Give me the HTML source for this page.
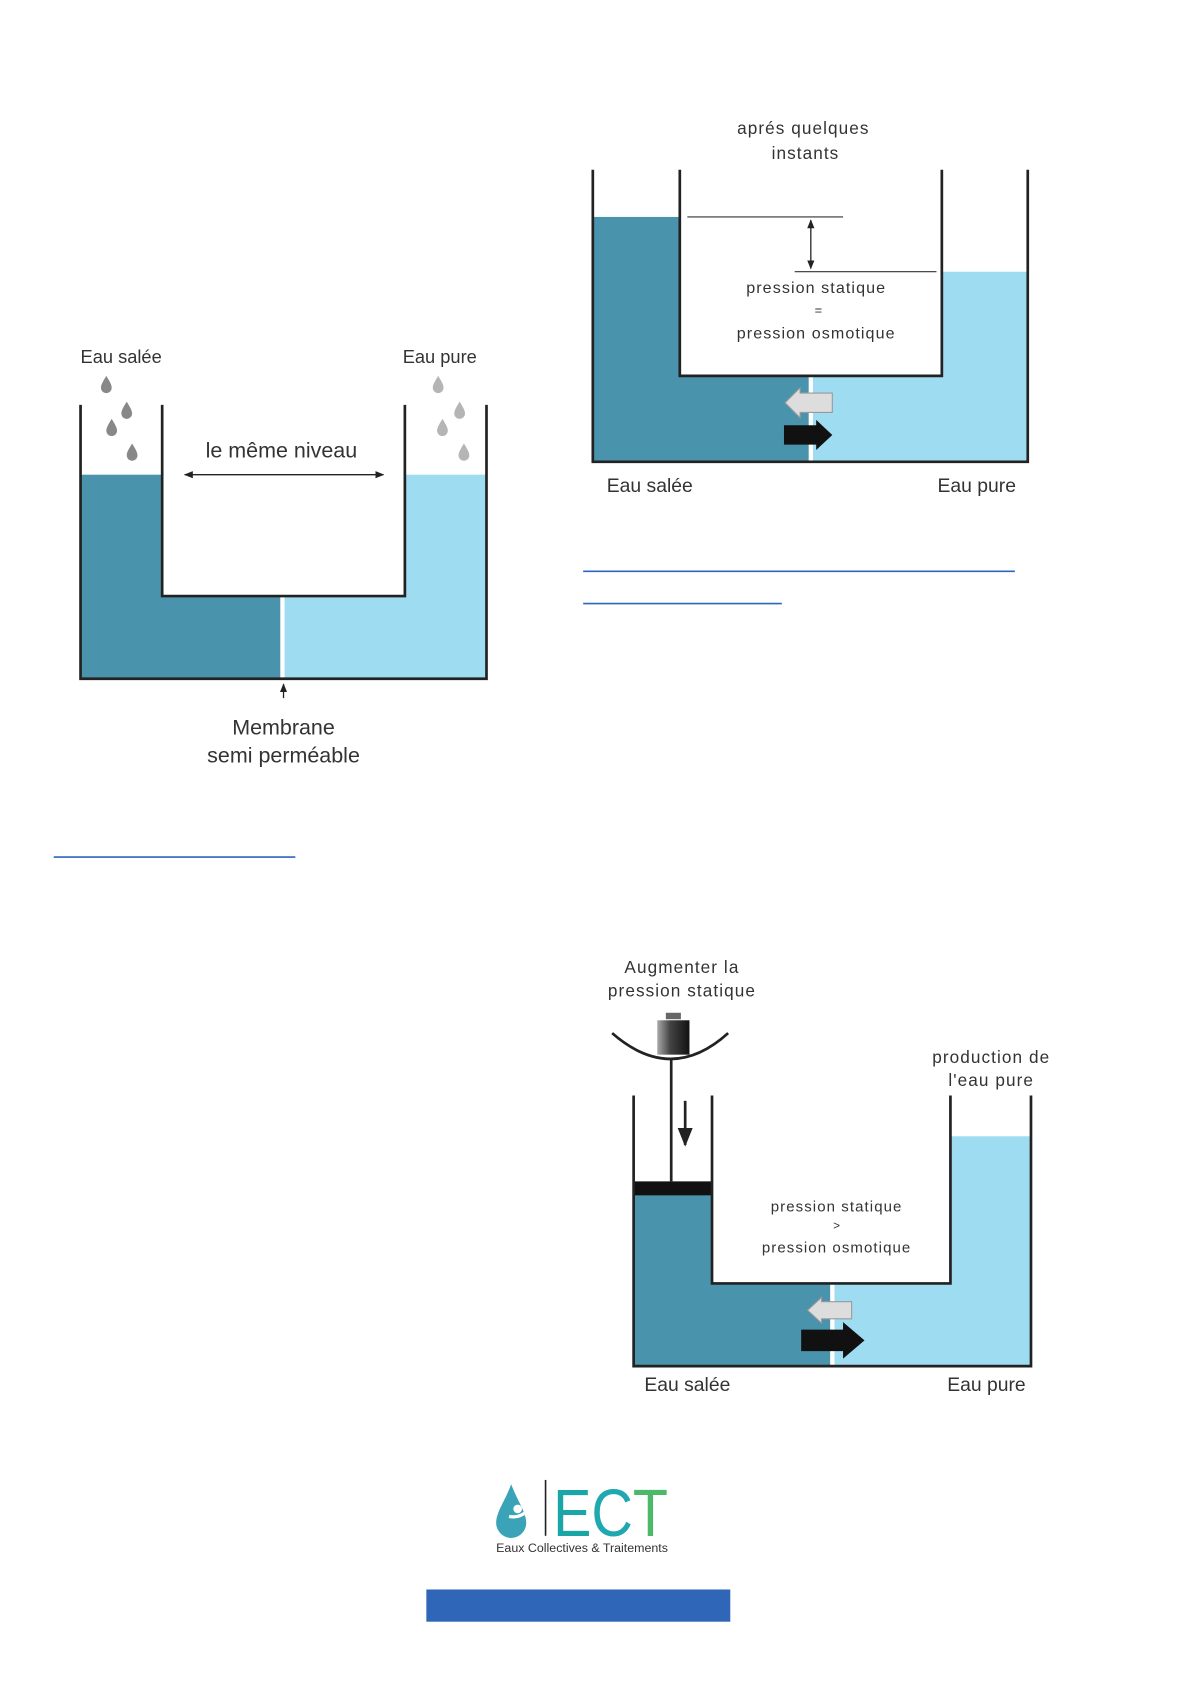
<!DOCTYPE html>
<html><head><meta charset="utf-8"><style>
html,body{margin:0;padding:0;background:#fff;width:1191px;height:1684px;overflow:hidden}
svg{display:block}
text{font-family:"Liberation Sans","DejaVu Sans",sans-serif;fill:#333}
</style></head><body>
<svg width="1191" height="1684" viewBox="0 0 1109 1568" preserveAspectRatio="none" xmlns="http://www.w3.org/2000/svg">
<defs>
<marker id="ah" viewBox="0 0 10 10" refX="9" refY="5" markerWidth="7" markerHeight="7" orient="auto-start-reverse"><path d="M0,1 L10,5 L0,9 z" fill="#222"/></marker>
<linearGradient id="wg" x1="0" x2="1"><stop offset="0" stop-color="#aaa"/><stop offset=".4" stop-color="#444"/><stop offset="1" stop-color="#111"/></linearGradient>
<path id="drop" d="M0,-8 C3,-3 5,0 5,3 A5,5 0 0 1 -5,3 C-5,0 -3,-3 0,-8z"/>
</defs>

<!-- Diagram 1 -->
<rect x="75" y="442" width="188" height="190" fill="#4a93ad"/>
<rect x="263" y="442" width="190" height="190" fill="#9edcf2"/>
<rect x="151" y="440" width="226" height="115" fill="#fff"/>
<line x1="263" y1="555" x2="263" y2="632" stroke="#fff" stroke-width="4"/>
<path d="M75,377 V632 H453 V377 M151,377 V555 H377 V377" fill="none" stroke="#222" stroke-width="2.5"/>
<text x="75" y="338" font-size="17">Eau salée</text>
<text x="375" y="338" font-size="17">Eau pure</text>
<g fill="#888"><use href="#drop" x="99" y="358"/><use href="#drop" x="118" y="382"/><use href="#drop" x="104" y="398"/><use href="#drop" x="123" y="421"/></g>
<g fill="#b5b5b5"><use href="#drop" x="408" y="358"/><use href="#drop" x="428" y="382"/><use href="#drop" x="412" y="398"/><use href="#drop" x="432" y="421"/></g>
<text x="262" y="426" font-size="20" text-anchor="middle">le même niveau</text>
<line x1="172" y1="442" x2="357" y2="442" stroke="#222" stroke-width="1.2" marker-start="url(#ah)" marker-end="url(#ah)"/>
<line x1="264" y1="650" x2="264" y2="637" stroke="#222" stroke-width="1.2" marker-end="url(#ah)"/>
<text x="264" y="684" font-size="20" text-anchor="middle">Membrane</text>
<text x="264" y="710" font-size="20" text-anchor="middle">semi perméable</text>
<line x1="50" y1="798" x2="275" y2="798" stroke="#2f66b8" stroke-width="1.5"/>

<!-- Diagram 2 -->
<rect x="552" y="202" width="203" height="228" fill="#4a93ad"/>
<rect x="755" y="253" width="202" height="177" fill="#9edcf2"/>
<rect x="633" y="158" width="244" height="192" fill="#fff"/>
<line x1="755" y1="350" x2="755" y2="430" stroke="#fff" stroke-width="4"/>
<path d="M552,158 V430 H957 V158 M633,158 V350 H877 V158" fill="none" stroke="#222" stroke-width="2.5"/>
<line x1="640" y1="202" x2="785" y2="202" stroke="#333" stroke-width="1"/>
<line x1="740" y1="253" x2="872" y2="253" stroke="#333" stroke-width="1"/>
<line x1="755" y1="205" x2="755" y2="250" stroke="#222" stroke-width="1.2" marker-start="url(#ah)" marker-end="url(#ah)"/>
<text x="748" y="125" font-size="16" text-anchor="middle" letter-spacing="1">aprés quelques</text>
<text x="750" y="148" font-size="16" text-anchor="middle" letter-spacing="1">instants</text>
<text x="760" y="273" font-size="15" text-anchor="middle" letter-spacing="1">pression statique</text>
<text x="762" y="293" font-size="12" text-anchor="middle" fill="#aaa">=</text>
<text x="760" y="315" font-size="15" text-anchor="middle" letter-spacing="1">pression osmotique</text>
<path d="M775,366 H745 V361 L731,375 L745,389 V384 H775z" fill="#ddd" stroke="#999"/>
<path d="M730,396 H760 V391 L775,405 L760,419 V414 H730z" fill="#111"/>
<text x="565" y="458" font-size="18">Eau salée</text>
<text x="873" y="458" font-size="18">Eau pure</text>
<line x1="543" y1="532" x2="945" y2="532" stroke="#2f66b8" stroke-width="1.5"/>
<line x1="543" y1="562" x2="728" y2="562" stroke="#2f66b8" stroke-width="1.5"/>

<!-- Diagram 3 -->
<rect x="590" y="1112" width="185" height="160" fill="#4a93ad"/>
<rect x="775" y="1058" width="185" height="214" fill="#9edcf2"/>
<rect x="663" y="1056" width="222" height="139" fill="#fff"/>
<line x1="775" y1="1195" x2="775" y2="1272" stroke="#fff" stroke-width="4"/>
<rect x="590" y="1100" width="73" height="13" fill="#111"/>
<path d="M590,1020 V1272 H960 V1020 M663,1020 V1195 H885 V1020" fill="none" stroke="#222" stroke-width="2.5"/>
<line x1="625" y1="985" x2="625" y2="1100" stroke="#222" stroke-width="2.5"/>
<line x1="638" y1="1025" x2="638" y2="1066" stroke="#222" stroke-width="2.5" marker-end="url(#ah)"/>
<path d="M570,962 Q625,1010 678,962" fill="none" stroke="#222" stroke-width="2.5"/>
<rect x="612" y="950" width="30" height="32" fill="url(#wg)"/>
<rect x="620" y="943" width="14" height="6" fill="#666"/>
<text x="635" y="906" font-size="16" text-anchor="middle" letter-spacing="1">Augmenter la</text>
<text x="635" y="928" font-size="16" text-anchor="middle" letter-spacing="1">pression statique</text>
<text x="923" y="990" font-size="16" text-anchor="middle" letter-spacing="1">production de</text>
<text x="923" y="1011" font-size="16" text-anchor="middle" letter-spacing="1">l'eau pure</text>
<text x="779" y="1128" font-size="14" text-anchor="middle" letter-spacing="1">pression statique</text>
<text x="779" y="1145" font-size="11" text-anchor="middle" fill="#aaa">&gt;</text>
<text x="779" y="1166" font-size="14" text-anchor="middle" letter-spacing="1">pression osmotique</text>
<path d="M793,1212 H765 V1208 L752,1220 L765,1232 V1228 H793z" fill="#ddd" stroke="#999"/>
<path d="M746,1238 H785 V1231 L805,1248 L785,1265 V1258 H746z" fill="#111"/>
<text x="600" y="1295" font-size="18">Eau salée</text>
<text x="882" y="1295" font-size="18">Eau pure</text>

<!-- Logo -->
<path d="M476,1382 C470,1398 462,1408 462,1418 A13,13 0 0 0 490,1418 C490,1408 482,1398 476,1382z" fill="#3aa3b8"/>
<circle cx="482" cy="1405" r="4" fill="#fff"/>
<path d="M474,1412 Q484,1414 492,1406" stroke="#fff" stroke-width="3" fill="none"/>
<line x1="508" y1="1378" x2="508" y2="1430" stroke="#222" stroke-width="1.5"/>
<text x="515" y="1430" font-size="62" textLength="107" lengthAdjust="spacingAndGlyphs" style="fill:#1aa6a6">E<tspan style="fill:#20a8b0">C</tspan><tspan style="fill:#4cb86a">T</tspan></text>
<text x="462" y="1445" font-size="11" fill="#333" textLength="160" lengthAdjust="spacingAndGlyphs">Eaux Collectives &amp; Traitements</text>

<rect x="397" y="1480" width="283" height="30" fill="#2f66b8"/>
</svg>
</body></html>
